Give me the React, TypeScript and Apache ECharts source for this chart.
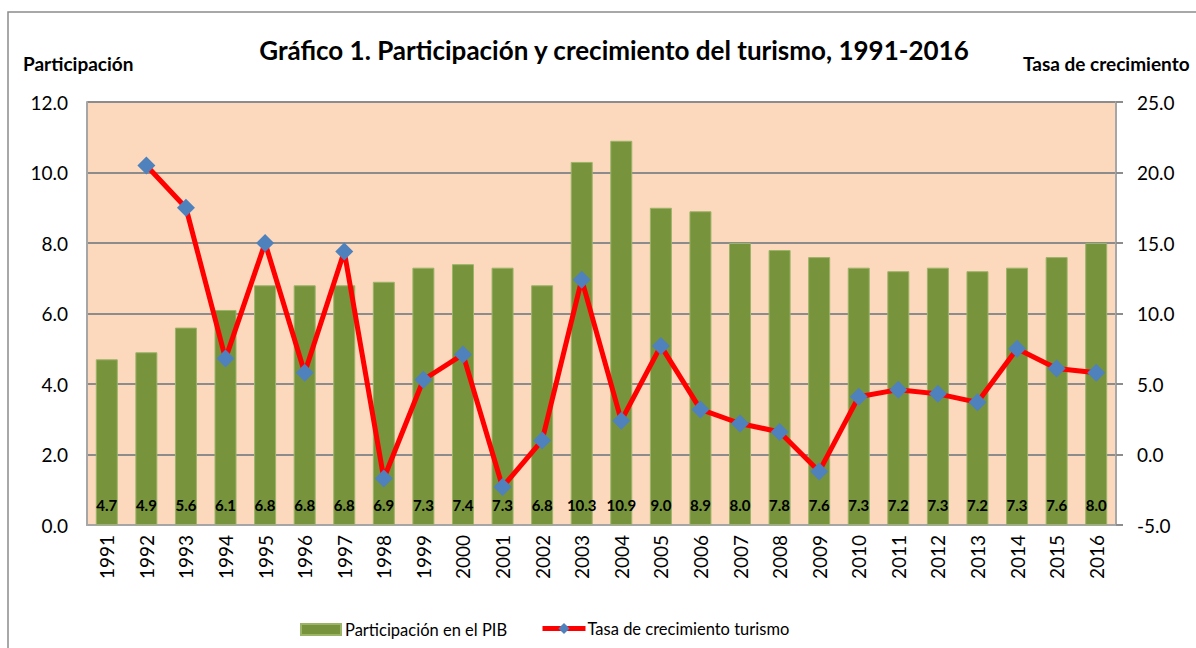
import React, { useEffect, useRef } from "react";
import * as echarts from "echarts";

const years = ["1991","1992","1993","1994","1995","1996","1997","1998","1999","2000","2001","2002","2003","2004","2005","2006","2007","2008","2009","2010","2011","2012","2013","2014","2015","2016"];
const participacion = [4.7,4.9,5.6,6.1,6.8,6.8,6.8,6.9,7.3,7.4,7.3,6.8,10.3,10.9,9.0,8.9,8.0,7.8,7.6,7.3,7.2,7.3,7.2,7.3,7.6,8.0];
const tasa = [null,20.5,17.5,6.8,15.0,5.8,14.4,-1.7,5.3,7.1,-2.3,1.0,12.4,2.4,7.7,3.2,2.2,1.6,-1.2,4.1,4.6,4.3,3.7,7.5,6.1,5.8];
const leftTicks = { min: 0, max: 12, interval: 2 };
const rightTicks = { min: -5, max: 25, interval: 5 };

const FONT = "Lato, 'Open Sans', sans-serif";

export default function App() {
  const ref = useRef<HTMLDivElement>(null);
  useEffect(() => {
    if (!ref.current) return;
    const chart = echarts.init(ref.current, null, { renderer: "svg" });
    chart.setOption({
      animation: false,
      backgroundColor: "#ffffff",
      textStyle: { fontFamily: FONT },
      graphic: [
        { type: "rect", shape: { x: 8, y: 12, width: 1300, height: 700 }, style: { fill: "none", stroke: "#8c8c8c", lineWidth: 1.5 }, silent: true },
        { type: "text", left: 23, top: 54, style: { text: "Participación", font: `bold 19px ${FONT}`, fill: "#000" } },
        { type: "text", left: 1023, top: 54, style: { text: "Tasa de crecimiento", font: `bold 19px ${FONT}`, fill: "#000" } },
      ],
      title: {
        text: "Gráfico 1. Participación y crecimiento del turismo, 1991-2016",
        left: 609,
        textAlign: "center",
        top: 32,
        textStyle: { fontFamily: FONT, fontWeight: "bold", fontSize: 26, color: "#000" },
      },
      legend: [
        {
          top: 621,
          left: 300,
          padding: 0,
          itemWidth: 40,
          itemHeight: 11,
          textStyle: { fontFamily: FONT, fontSize: 16.5, color: "#000", padding: [0, 0, 0, -1] },
          data: [{ name: "Participación en el PIB", icon: "rect" }],
        },
        {
          top: 620,
          left: 540,
          padding: 0,
          itemWidth: 43,
          itemHeight: 14,
          textStyle: { fontFamily: FONT, fontSize: 16.5, color: "#000", padding: [0, 0, 0, -3] },
          data: [{ name: "Tasa de crecimiento turismo", lineStyle: { width: 5, color: "#FF0000" } }],
        },
      ],
      grid: {
        left: 87,
        right: 80,
        top: 102,
        bottom: 123,
        show: true,
        backgroundColor: "#FCD9BD",
        borderWidth: 0,
      },
      xAxis: {
        type: "category",
        data: years,
        axisLine: { show: true, lineStyle: { color: "#a6a6a6", width: 2 } },
        axisTick: { show: false },
        axisLabel: { rotate: 90, fontSize: 19, color: "#000", fontFamily: FONT, margin: 10 },
      },
      yAxis: [
        {
          type: "value",
          ...leftTicks,
          position: "left",
          axisLine: { show: true, lineStyle: { color: "#a6a6a6", width: 2 } },
          axisTick: { show: false },
          axisLabel: { fontSize: 19, color: "#000", fontFamily: FONT, formatter: (v: number) => v.toFixed(1), margin: 19 },
          splitLine: { show: true, lineStyle: { color: "#8c8c8c", width: 2 } },
        },
        {
          type: "value",
          ...rightTicks,
          position: "right",
          axisLine: { show: true, lineStyle: { color: "#a6a6a6", width: 2 } },
          axisTick: { show: true, length: 7, lineStyle: { color: "#8c8c8c", width: 2 } },
          axisLabel: { fontSize: 19, color: "#000", fontFamily: FONT, formatter: (v: number) => v.toFixed(1), margin: 21 },
          splitLine: { show: false },
        },
      ],
      series: [
        {
          name: "Participación en el PIB",
          type: "bar",
          yAxisIndex: 0,
          data: participacion,
          barWidth: 22,
          itemStyle: { color: "#77933C", borderColor: "#9BB468", borderWidth: 1 },
          label: {
            show: true,
            position: "insideBottom",
            distance: 13,
            formatter: (p: any) => Number(p.value).toFixed(1),
            fontFamily: FONT,
            fontWeight: "bold",
            fontSize: 15,
            color: "#000",
          },
        },
        {
          name: "Tasa de crecimiento turismo",
          type: "line",
          yAxisIndex: 1,
          data: tasa,
          connectNulls: false,
          symbol: "diamond",
          symbolSize: 18,
          lineStyle: { color: "#FF0000", width: 5 },
          itemStyle: { color: "#4F81BD" },
          z: 5,
        },
      ],
    });
    return () => chart.dispose();
  }, []);
  return <div ref={ref} style={{ width: 1196, height: 648, position: "absolute", left: 0, top: 0 }} />;
}
